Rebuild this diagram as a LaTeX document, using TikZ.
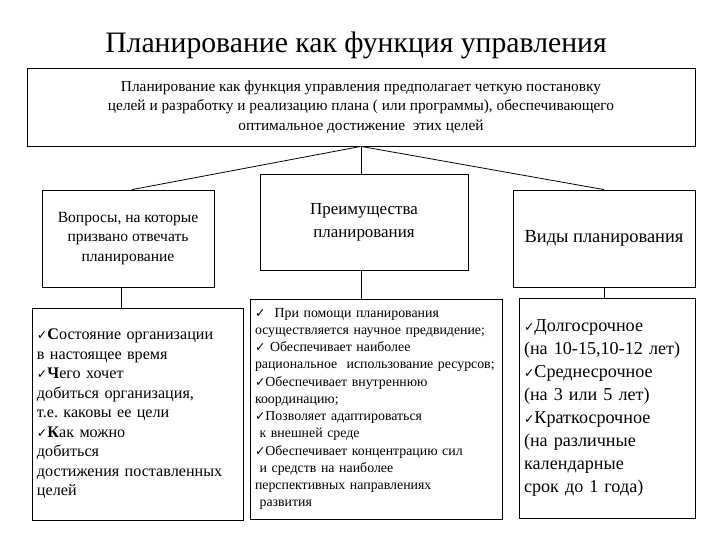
\documentclass[tikz,border=0pt]{standalone}
\usepackage{fontspec}
\setmainfont{Liberation Serif}
\newfontfamily\symfont{DejaVu Sans}
\newcommand{\chk}{{\symfont\fontsize{12.5}{10}\selectfont ✓}}
\frenchspacing
\tikzset{
  box/.style={draw, line width=0.8bp, inner sep=5bp, align=center},
  listbox/.style={draw, line width=0.8bp, inner xsep=5bp, align=left},
  link/.style={line width=0.8bp}
}
\begin{document}
\begin{tikzpicture}[x=1bp,y=-1bp]
 \useasboundingbox (0,0) rectangle (720,540);
 % title
 \node[font=\fontsize{29.8}{32}\selectfont] (title) at (356,45) {Планирование как функция управления};
 % upper row
 \node[box, minimum width=668bp, minimum height=78bp, font=\fontsize{15.4}{19.5}\selectfont] (main) at (361,107)
  {Планирование как функция управления предполагает четкую постановку\\
   целей и разработку и реализацию плана ( или программы), обеспечивающего\\
   оптимальное достижение~ этих целей};
 \node[box, minimum width=172bp, minimum height=97bp, font=\fontsize{15.6}{20}\selectfont] (ques) at (128,238.5)
  {Вопросы, на которые\\призвано отвечать\\планирование};
 \node[box, minimum width=208bp, minimum height=96bp, font=\fontsize{17}{23}\selectfont] (adv) at (364,222)
  {Преимущества\\планирования};
 \node[box, minimum width=182bp, minimum height=97bp, font=\fontsize{18.5}{20}\selectfont] (kinds) at (604,238.5)
  {Виды планирования};
 % lower row
 \node[listbox, text width=201bp, minimum height=212bp, font=\fontsize{16.2}{19.6}\selectfont] (list1) at (137.5,414)
  {\chk\textbf{С}остояние организации\\
   в настоящее время\\
   \chk\textbf{Ч}его хочет\\
   добиться организация,\\
   т.е. каковы ее цели\\
   \chk\textbf{К}ак можно\\
   добиться\\
   достижения поставленных\\
   целей};
 \node[listbox, text width=242bp, minimum height=220bp, font=\fontsize{13.9}{17.3}\selectfont] (list2) at (376,409)
  {\chk\ \ При помощи планирования\\
   осуществляется научное предвидение;\\
   \chk\ Обеспечивает наиболее\\
   рациональное\ \ использование ресурсов;\\
   \chk Обеспечивает внутреннюю\\
   координацию;\\
   \chk Позволяет адаптироваться\\
   \ к внешней среде\\
   \chk Обеспечивает концентрацию сил\\
   \ и средств на наиболее\\
   перспективных направлениях\\
   \ развития};
 \node[listbox, text width=166bp, minimum height=220bp, font=\fontsize{18.2}{23}\selectfont] (list3) at (607,408)
  {\chk Долгосрочное\\
   (на 10-15,10-12 лет)\\
   \chk Среднесрочное\\
   (на 3 или 5 лет)\\
   \chk Краткосрочное\\
   (на различные\\
   календарные\\
   срок до 1 года)};
 % connectors
 \draw[link] (main.south) -- ([xshift=4bp]ques.north);
 \draw[link] (main.south) -- (kinds.north);
 \draw[link] (main.south) -- (main.south |- adv.north);
 \draw[link] ([xshift=-7bp]ques.south) -- ([xshift=-7bp]ques.south |- list1.north);
 \draw[link] (main.south |- adv.south) -- (main.south |- list2.north);
 \draw[link] (kinds.south) -- (kinds.south |- list3.north);
\end{tikzpicture}
\end{document}
